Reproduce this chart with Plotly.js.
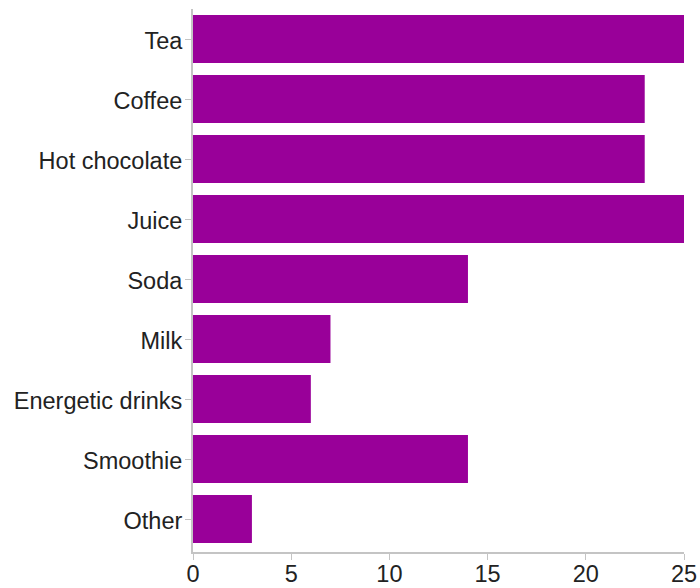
<!DOCTYPE html>
<html>
<head>
<meta charset="utf-8">
<script src="https://cdn.plot.ly/plotly-3.0.1.min.js"></script>
<style>html,body{margin:0;padding:0;background:#fff;}#chart{width:700px;height:588px;}</style>
</head>
<body>
<div id="chart"></div>
<script>
const categories = ["Tea", "Coffee", "Hot chocolate", "Juice", "Soda", "Milk", "Energetic drinks", "Smoothie", "Other"];
const counts = [25, 23, 23, 25, 14, 7, 6, 14, 3];
const xTicks = [0, 5, 10, 15, 20, 25];

const trace = {
  type: "bar",
  orientation: "h",
  y: categories,
  x: counts,
  marker: {color: "#990099"},
  hoverinfo: "x+y"
};

const layout = {
  width: 700,
  height: 588,
  margin: {l: 193, r: 16, t: 9, b: 36},
  paper_bgcolor: "#ffffff",
  plot_bgcolor: "#ffffff",
  bargap: 0.2,
  showlegend: false,
  font: {family: "Liberation Sans, Arial, sans-serif", size: 23.5, color: "#222222"},
  xaxis: {
    range: [0, 25],
    tickvals: xTicks,
    ticktext: xTicks.map(String),
    showgrid: false,
    zeroline: false,
    showline: true,
    linecolor: "#c4c4c4",
    linewidth: 2,
    ticks: "outside",
    ticklen: 6,
    tickcolor: "#c4c4c4",
    tickwidth: 1,
    ticklabelstandoff: -6,
    tickfont: {size: 23.5, color: "#222222"}
  },
  yaxis: {
    type: "category",
    range: [8.55, -0.5],
    showgrid: false,
    zeroline: false,
    showline: true,
    linecolor: "#c4c4c4",
    linewidth: 2,
    ticks: "outside",
    ticklen: 6,
    tickcolor: "#c4c4c4",
    tickwidth: 1,
    ticklabelstandoff: -2,
    ticklabelshift: -2,
    tickfont: {size: 23.5, color: "#222222"}
  }
};

Plotly.newPlot("chart", [trace], layout, {displayModeBar: false, staticPlot: true});
</script>
</body>
</html>
